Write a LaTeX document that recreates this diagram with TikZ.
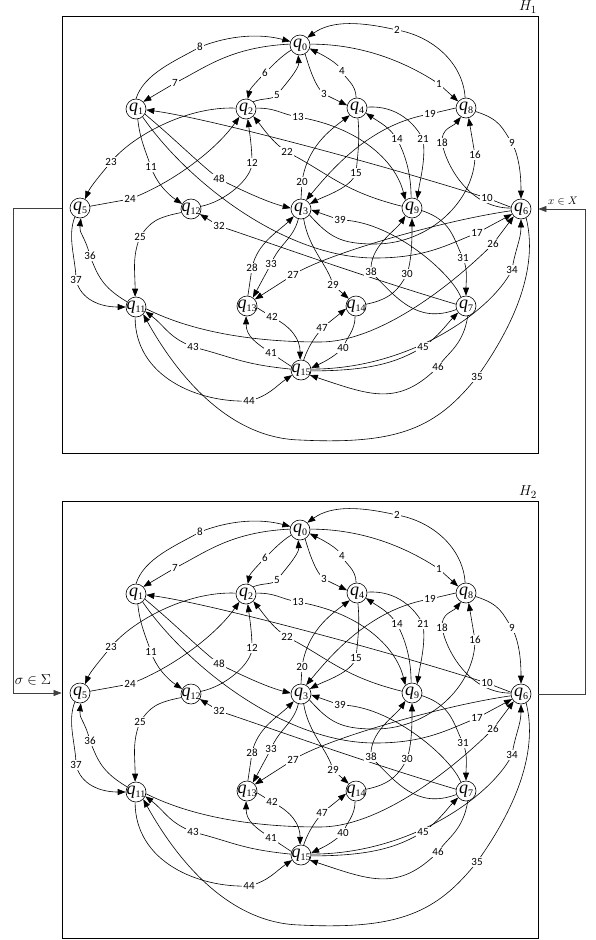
\documentclass[tikz,border=0pt]{standalone}
\usepackage{fontspec}
\setmainfont{Liberation Serif}
\newfontfamily\numfont{Carlito}
\usetikzlibrary{arrows.meta}

% state label: italic q with upright index, zero width so the circle keeps its size
\newcommand\qn[1]{\makebox[0pt][c]{\fontsize{18}{18}\selectfont\itshape q\raisebox{-3pt}{\upshape\fontsize{10}{10}\selectfont #1}}}

\tikzset{
  st/.style={circle,draw,line width=0.6pt,minimum size=20pt,inner sep=0pt},
  edge/.style={line width=0.6pt,-{Triangle[length=8pt,width=6pt]}},
  lab/.style={fill=white,inner sep=1pt,font=\numfont\fontsize{11}{11}\selectfont},
  panel/.style={draw,line width=0.8pt,minimum width=476pt,minimum height=437pt,inner sep=0pt},
  conn/.style={line width=0.7pt,black!75,-{Triangle[length=8pt,width=6pt]}},
}

% one transition graph; #1 is the prefix of all its names
\newcommand\automaton[1]{%
  % states
  \node[st] (#1q0)  at (300,45)  {\qn{0}};
  \node[st] (#1q1)  at (136,109) {\qn{1}};
  \node[st] (#1q2)  at (246,109) {\qn{2}};
  \node[st] (#1q4)  at (357,108) {\qn{4}};
  \node[st] (#1q8)  at (466,108) {\qn{8}};
  \node[st] (#1q5)  at (80,208)  {\qn{5}};
  \node[st] (#1q12) at (191,209) {\qn{12}};
  \node[st] (#1q3)  at (301,209) {\qn{3}};
  \node[st] (#1q9)  at (412,208) {\qn{9}};
  \node[st] (#1q6)  at (521,209) {\qn{6}};
  \node[st] (#1q11) at (136,307) {\qn{11}};
  \node[st] (#1q13) at (247,306) {\qn{13}};
  \node[st] (#1q14) at (356,306) {\qn{14}};
  \node[st] (#1q7)  at (466,306) {\qn{7}};
  \node[st] (#1q15) at (301,370) {\qn{15}};
  % label points of the transitions
  \coordinate (#1l1) at (439,84);   \coordinate (#1l2) at (397,30);
  \coordinate (#1l3) at (324,94);   \coordinate (#1l4) at (342,71);
  \coordinate (#1l5) at (277,95);   \coordinate (#1l6) at (265,73);
  \coordinate (#1l7) at (175,83);   \coordinate (#1l8) at (200,47);
  \coordinate (#1l9) at (512,143);  \coordinate (#1l10) at (487,198);
  \coordinate (#1l11) at (151,167); \coordinate (#1l12) at (252,163);
  \coordinate (#1l13) at (298,117); \coordinate (#1l14) at (397,139);
  \coordinate (#1l15) at (356,173); \coordinate (#1l16) at (475,155);
  \coordinate (#1l17) at (477,233); \coordinate (#1l18) at (442,143);
  \coordinate (#1l19) at (430,114); \coordinate (#1l20) at (302,182);
  \coordinate (#1l21) at (423,139); \coordinate (#1l22) at (287,152);
  \coordinate (#1l23) at (111,162); \coordinate (#1l24) at (130,199);
  \coordinate (#1l25) at (140,237); \coordinate (#1l26) at (493,244);
  \coordinate (#1l27) at (293,275); \coordinate (#1l28) at (252,268);
  \coordinate (#1l29) at (333,285); \coordinate (#1l30) at (407,274);
  \coordinate (#1l31) at (463,258); \coordinate (#1l32) at (219,226);
  \coordinate (#1l33) at (271,264); \coordinate (#1l34) at (512,270);
  \coordinate (#1l35) at (477,377); \coordinate (#1l36) at (90,256);
  \coordinate (#1l37) at (76,280);  \coordinate (#1l38) at (371,272);
  \coordinate (#1l39) at (340,220); \coordinate (#1l40) at (343,348);
  \coordinate (#1l41) at (271,353); \coordinate (#1l42) at (272,317);
  \coordinate (#1l43) at (193,347); \coordinate (#1l44) at (249,401);
  \coordinate (#1l45) at (423,347); \coordinate (#1l46) at (438,367);
  \coordinate (#1l47) at (322,328); \coordinate (#1l48) at (219,179);
  % bends of the long transitions
  \coordinate (#1w16) at (375,244);
  \coordinate (#1w17) at (375,258);
  \coordinate (#1w26) at (320,342);
  \coordinate (#1w35) at (300,440);
  % transitions
  \draw[edge] (#1q0.5) .. controls +(55,0) and +(-30,-20) .. (#1l1) -- (#1q8.140);
  \draw[edge] (#1q8.95) .. controls +(-2,-35) and +(35,6) .. (#1l2) .. controls +(-35,-8) and +(25,-18) .. (#1q0.45);
  \draw[edge] (#1q0.-60) .. controls +(4,14) and +(-8,-6) .. (#1l3) -- (#1q4.165);
  \draw[edge] (#1q4.95) .. controls +(0,-14) and +(3,8) .. (#1l4) .. controls +(-3,-8) and +(10,5) .. (#1q0.-20);
  \draw[edge] (#1q2.45) .. controls +(10,-4) and +(-5,5) .. (#1l5) .. controls +(6,-8) and +(1,14) .. (#1q0.-100);
  \draw[edge] (#1q0.-150) .. controls +(-10,6) and +(6,-6) .. (#1l6) .. controls +(-6,6) and +(2,-10) .. (#1q2.80);
  \draw[edge] (#1q0.175) .. controls +(-60,3) and +(30,-15) .. (#1l7) -- (#1q1.45);
  \draw[edge] (#1q1.90) .. controls +(8,-25) and +(-25,14) .. (#1l8) .. controls +(30,-12) and +(-30,-8) .. (#1q0.160);
  \draw[edge] (#1q8.-20) .. controls +(25,8) and +(-10,-15) .. (#1l9) .. controls +(8,15) and +(0,-20) .. (#1q6.90);
  \draw[edge] (#1q6.170) -- (#1l10) .. controls +(-110,-35) and +(60,8) .. (#1q1.-5);
  \draw[edge] (#1q1.-80) .. controls +(2,20) and +(-5,-15) .. (#1l11) .. controls +(5,15) and +(-15,-10) .. (#1q12.150);
  \draw[edge] (#1q12.15) .. controls +(25,-5) and +(0,15) .. (#1l12) .. controls +(0,-15) and +(2,15) .. (#1q2.-80);
  \draw[edge] (#1q2.5) .. controls +(20,0) and +(-20,-4) .. (#1l13) .. controls +(60,10) and +(-10,-40) .. (#1q9.130);
  \draw[edge] (#1q9.95) .. controls +(0,-25) and +(8,15) .. (#1l14) .. controls +(-8,-12) and +(15,10) .. (#1q4.-30);
  \draw[edge] (#1q4.-85) .. controls +(2,20) and +(2,-20) .. (#1l15) .. controls +(-5,15) and +(15,-8) .. (#1q3.30);
  \draw[edge] (#1q3.-35) .. controls +(20,22) and +(-35,0) .. (#1w16) .. controls +(55,0) and +(0,45) .. (#1l16) -- (#1q8.-75);
  \draw[edge] (#1q1.-50) .. controls +(45,65) and +(-90,0) .. (#1w17) .. controls +(50,0) and +(-30,12) .. (#1l17) -- (#1q6.-150);
  \draw[edge] (#1q6.175) .. controls +(-40,0) and +(5,25) .. (#1l18) .. controls +(-1,-15) and +(-8,10) .. (#1q8.-120);
  \draw[edge] (#1q8.180) -- (#1l19) .. controls +(-60,10) and +(25,-30) .. (#1q3.60);
  \draw[edge] (#1q3.90) -- (#1l20) .. controls +(5,-35) and +(-20,15) .. (#1q4.-135);
  \draw[edge] (#1q4.5) .. controls +(30,-2) and +(-8,-15) .. (#1l21) .. controls +(3,20) and +(3,-20) .. (#1q9.60);
  \draw[edge] (#1q9.170) .. controls +(-60,-15) and +(40,20) .. (#1l22) .. controls +(-15,-10) and +(10,12) .. (#1q2.-45);
  \draw[edge] (#1q2.175) .. controls +(-50,-2) and +(20,-25) .. (#1l23) .. controls +(-10,12) and +(5,-12) .. (#1q5.60);
  \draw[edge] (#1q5.10) -- (#1l24) .. controls +(40,-15) and +(-25,35) .. (#1q2.-130);
  \draw[edge] (#1q12.-160) .. controls +(-25,5) and +(10,-15) .. (#1l25) .. controls +(-8,20) and +(0,-25) .. (#1q11.95);
  \draw[edge] (#1q11.-10) .. controls +(50,25) and +(-60,0) .. (#1w26) .. controls +(60,0) and +(-40,40) .. (#1l26) -- (#1q6.-135);
  \draw[edge] (#1q6.-170) .. controls +(-70,10) and +(30,-20) .. (#1l27) -- (#1q13.40);
  \draw[edge] (#1q13.85) -- (#1l28) .. controls +(5,-25) and +(-15,15) .. (#1q3.-135);
  \draw[edge] (#1q3.-75) .. controls +(5,30) and +(-5,-20) .. (#1l29) -- (#1q14.135);
  \draw[edge] (#1q14.10) .. controls +(25,-5) and +(-8,15) .. (#1l30) .. controls +(5,-15) and +(0,20) .. (#1q9.-90);
  \draw[edge] (#1q9.-15) .. controls +(30,10) and +(-10,-20) .. (#1l31) .. controls +(5,12) and +(0,-15) .. (#1q7.90);
  \draw[edge] (#1q7.170) .. controls +(-100,-30) and +(60,20) .. (#1l32) -- (#1q12.-30);
  \draw[edge] (#1q3.-105) .. controls +(-5,20) and +(8,-20) .. (#1l33) -- (#1q13.55);
  \draw[edge] (#1q15.5) .. controls +(100,0) and +(-20,40) .. (#1l34) .. controls +(3,-20) and +(0,20) .. (#1q6.-90);
  \draw[edge] (#1q6.-60) .. controls +(15,60) and +(25,-35) .. (#1l35) .. controls +(-40,50) and +(100,5) .. (#1w35) .. controls +(-80,-2) and +(25,45) .. (#1q11.-45);
  \draw[edge] (#1q11.150) .. controls +(-25,-15) and +(8,20) .. (#1l36) .. controls +(-5,-20) and +(-2,15) .. (#1q5.-85);
  \draw[edge] (#1q5.-120) .. controls +(-8,20) and +(0,-20) .. (#1l37) .. controls +(5,20) and +(-25,0) .. (#1q11.180);
  \draw[edge] (#1q7.-160) .. controls +(-40,15) and +(25,25) .. (#1l38) .. controls +(-2,-25) and +(-10,15) .. (#1q9.-130);
  \draw[edge] (#1q7.120) .. controls +(-10,-25) and +(50,0) .. (#1l39) -- (#1q3.-5);
  \draw[edge] (#1q14.-95) .. controls +(0,15) and +(3,-10) .. (#1l40) .. controls +(-10,10) and +(10,-5) .. (#1q15.10);
  \draw[edge] (#1q15.160) -- (#1l41) .. controls +(-15,-10) and +(0,20) .. (#1q13.-95);
  \draw[edge] (#1q13.-10) -- (#1l42) .. controls +(20,10) and +(0,-20) .. (#1q15.95);
  \draw[edge] (#1q15.175) .. controls +(-50,-5) and +(40,10) .. (#1l43) .. controls +(-25,-10) and +(20,15) .. (#1q11.-25);
  \draw[edge] (#1q11.-95) .. controls +(0,60) and +(-50,2) .. (#1l44) .. controls +(20,-5) and +(-15,10) .. (#1q15.-150);
  \draw[edge] (#1q15.-5) .. controls +(60,0) and +(-25,15) .. (#1l45) .. controls +(15,-10) and +(-10,10) .. (#1q7.-140);
  \draw[edge] (#1q7.-80) .. controls +(-5,30) and +(10,-15) .. (#1l46) .. controls +(-40,40) and +(60,20) .. (#1q15.-30);
  \draw[edge] (#1q15.75) .. controls +(5,-15) and +(-6,8) .. (#1l47) -- (#1q14.-165);
  \draw[edge] (#1q1.-30) .. controls +(30,25) and +(-25,-20) .. (#1l48) .. controls +(30,15) and +(-20,-5) .. (#1q3.175);
  % transition numbers on top of the lines
  \foreach \n in {1,...,48} {\node[lab] at (#1l\n) {\n};}
}

\begin{document}
\begin{tikzpicture}[x=1pt,y=-1pt]
  \useasboundingbox (0,0) rectangle (595,940);
  % the two panels
  \node[panel] (box1) at (300,234.5) {};
  \node[panel] (box2) at (300,719.5) {};
  \node at (528,7)   {\fontsize{15}{15}\selectfont $H_1$};
  \node at (528,492) {\fontsize{15}{15}\selectfont $H_2$};
  \automaton{a}
  \begin{scope}[shift={(0,485)}]
    \automaton{b}
  \end{scope}
  % couplings between the panels
  \draw[conn] (box1.west |- aq5) -- ++(-48,0) |- (box2.west |- bq5);
  \draw[conn] (box2.east |- bq6) -- ++(47,0) |- (box1.east |- aq6);
  \node at (563,201) {\fontsize{11}{11}\selectfont $x\in X$};
  \node at (33,680) {\fontsize{14}{14}\selectfont $\sigma\in\Sigma$};
\end{tikzpicture}
\end{document}
